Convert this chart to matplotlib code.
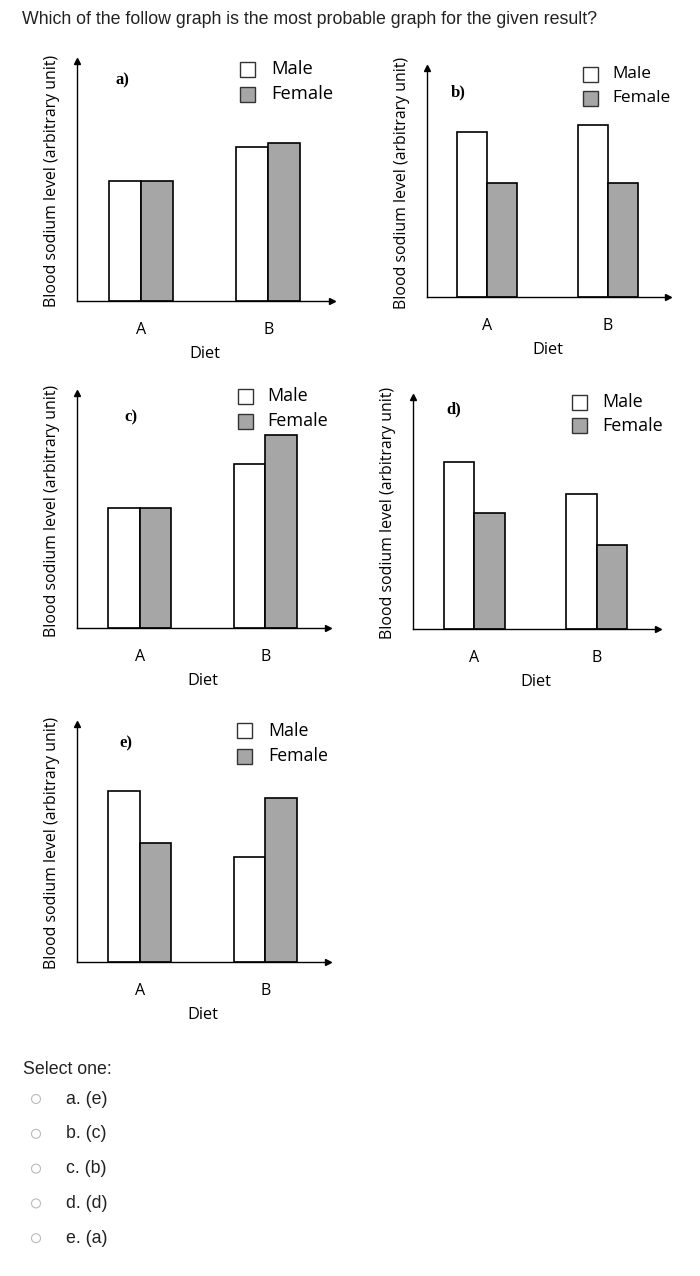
import matplotlib
matplotlib.use("Agg")
import matplotlib.pyplot as plt
from matplotlib.patches import Rectangle, Circle

W, H = 700, 1276

# bar heights (arbitrary unit, axis spans 0..10)
panels = ["a)", "b)", "c)", "d)", "e)"]
diets = ["A", "B"]
male = {
    "a)": [5.0, 6.4],
    "b)": [7.2, 7.5],
    "c)": [5.1, 7.0],
    "d)": [7.2, 5.8],
    "e)": [7.2, 4.4],
}
female = {
    "a)": [5.0, 6.6],
    "b)": [5.0, 5.0],
    "c)": [5.1, 8.2],
    "d)": [5.0, 3.6],
    "e)": [5.0, 6.9],
}
options = ["a. (e)", "b. (c)", "c. (b)", "d. (d)", "e. (a)"]

# layout in pixels: axis left, axis right, x-axis y, arrow top y
boxes = {
    "a)": (77, 332, 301, 61),
    "b)": (427, 668, 297, 68),
    "c)": (77, 328, 628, 393),
    "d)": (413, 658, 629, 397),
    "e)": (77, 328, 962, 724),
}
# legend: box left, male y, female y, text x, font size
legends = {
    "a)": (240, 69, 94, 271, 13.2),
    "b)": (583, 74, 98, 612, 12.4),
    "c)": (238, 396, 421, 267, 13.0),
    "d)": (572, 402, 426, 602, 13.0),
    "e)": (237, 731, 756, 268, 12.8),
}
labelpos = {
    "a)": (122, 80),
    "b)": (458, 92),
    "c)": (131, 417),
    "d)": (454, 409),
    "e)": (126, 743),
}

GRAY = "#a6a6a6"
CAL = ["Open Sans", "DejaVu Sans"]
ARIAL = ["Liberation Sans", "DejaVu Sans"]


def fx(x):
    return x / W


def fy(y):
    return 1 - y / H


fig = plt.figure(figsize=(W / 100, H / 100), dpi=100)

fig.text(fx(22), fy(20), "Which of the follow graph is the most probable graph for the given result?",
         fontsize=12.8, family=ARIAL, color="#222222", va="center", ha="left")

for p in panels:
    x0, x1, yb, yt = boxes[p]
    ax = fig.add_axes([fx(x0), fy(yb), (x1 - x0) / W, (yb - yt) / H])
    ax.set_xlim(0, 8)
    ax.set_ylim(0, 10)
    centers = [2, 6]
    ax.bar([c - 0.5 for c in centers], male[p], width=1, color="white",
           edgecolor="black", linewidth=1.2)
    ax.bar([c + 0.5 for c in centers], female[p], width=1, color=GRAY,
           edgecolor="black", linewidth=1.2)
    for s in ["top", "right"]:
        ax.spines[s].set_visible(False)
    for s in ["left", "bottom"]:
        ax.spines[s].set_linewidth(1.0)
    ax.plot(0, 1, "^", transform=ax.transAxes, clip_on=False, ms=4, color="k")
    ax.plot(1, 0, ">", transform=ax.transAxes, clip_on=False, ms=4, color="k")
    ax.set_yticks([])
    ax.set_xticks(centers, diets)
    ax.tick_params(axis="x", length=0, pad=15)
    for t in ax.get_xticklabels():
        t.set_fontsize(11.5)
        t.set_family(CAL)
    ax.set_xlabel("Diet", fontsize=11.8, family=CAL, labelpad=6)
    ax.set_ylabel("Blood sodium level (arbitrary unit)", fontsize=11.4, family=CAL, labelpad=12)
    ax.patch.set_alpha(0)

    lx, my, fyy, tx, fs = legends[p]
    for yy, col, name in [(my, "white", "Male"), (fyy, GRAY, "Female")]:
        fig.patches.append(Rectangle((fx(lx), fy(yy + 7.5)), 15 / W, 15 / H,
                                     transform=fig.transFigure, facecolor=col,
                                     edgecolor="#333333", linewidth=1.0))
        fig.text(fx(tx), fy(yy), name, fontsize=fs, family=CAL, va="center", ha="left")

    px, py = labelpos[p]
    fig.text(fx(px), fy(py), p, fontsize=12, family=["Liberation Serif", "DejaVu Serif"],
             fontweight="bold", va="center", ha="center")

fig.text(fx(23), fy(1069), "Select one:", fontsize=12.8, family=ARIAL, color="#222222",
         va="center", ha="left")
for i, opt in enumerate(options):
    y = 1099 + i * 34.8
    fig.patches.append(Circle((36 / 100, (H - y) / 100), 0.045, transform=fig.dpi_scale_trans,
                              facecolor="white", edgecolor="#bbbbbb", linewidth=0.8))
    fig.text(fx(66), fy(y), opt, fontsize=12.8, family=ARIAL, color="#222222",
             va="center", ha="left")

fig.savefig("out.png", dpi=100)
